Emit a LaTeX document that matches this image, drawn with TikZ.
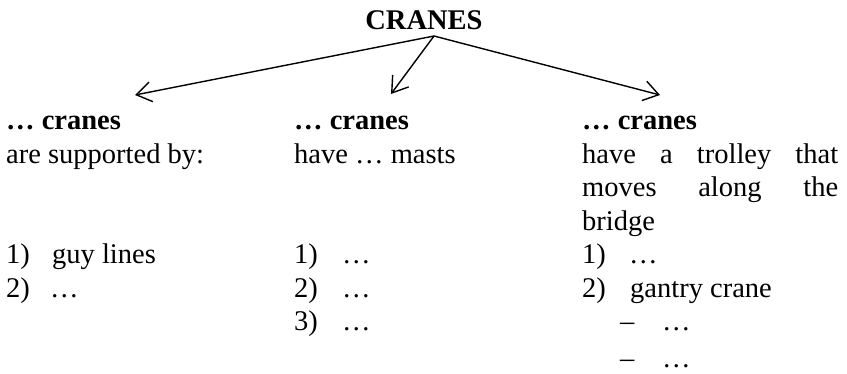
\documentclass[tikz,border=0pt]{standalone}
\usepackage{fontspec}
\setmainfont{Liberation Serif}
\usetikzlibrary{arrows.meta}
\tikzset{
  txt/.style={font=\fontsize{28.5}{33}\selectfont, inner sep=0pt, anchor=base west},
  bold/.style={txt, font=\fontsize{28.5}{33}\selectfont\bfseries},
  conn/.style={line width=1.4pt, -{Straight Barb[length=15pt,width=20pt,line width=1.4pt]}}
}
\begin{document}
\begin{tikzpicture}[x=1pt,y=-1pt]
\useasboundingbox (0,0) rectangle (847,373);
% title
\node[bold, anchor=base] (title) at (424,29) {CRANES};
\coordinate (apex) at (434,36);
\coordinate (tipL) at (135,95);
\coordinate (tipM) at (391,94);
\coordinate (tipR) at (660,95);
\draw[conn] (apex) -- (tipL);
\draw[conn] (apex) -- (tipM);
\draw[conn] (apex) -- (tipR);
% left column
\node[bold] (lh) at (6,129.5) {… cranes};
\node[txt] (ld) at (6,163) {are supported by:};
\node[txt] (l1n) at (6,263.5) {1)};
\node[txt] (l1t) at (52,263.5) {guy lines};
\node[txt] (l2n) at (6,297) {2)};
\node[txt] (l2t) at (50,297) {…};
% middle column
\node[bold] (mh) at (294,129.5) {… cranes};
\node[txt] (md) at (294,163) {have … masts};
\node[txt] (m1n) at (294,263.5) {1)};
\node[txt] (m1t) at (342,263.5) {…};
\node[txt] (m2n) at (294,297) {2)};
\node[txt] (m2t) at (342,297) {…};
\node[txt] (m3n) at (294,330.5) {3)};
\node[txt] (m3t) at (342,330.5) {…};
% right column
\node[bold] (rh) at (582,129.5) {… cranes};
\node[txt] (rd1) at (582,163) {\makebox[256pt][s]{have\hfill a\hfill trolley\hfill that}};
\node[txt] (rd2) at (582,196.5) {\makebox[256pt][s]{moves\hfill along\hfill the}};
\node[txt] (rd3) at (582,230) {bridge};
\node[txt] (r1n) at (582,263.5) {1)};
\node[txt] (r1t) at (629,263.5) {…};
\node[txt] (r2n) at (582,297) {2)};
\node[txt] (r2t) at (630,297) {gantry crane};
\node[txt] (r3n) at (620,330.5) {–};
\node[txt] (r3t) at (662,330.5) {…};
\node[txt] (r4n) at (620,367) {–};
\node[txt] (r4t) at (662,367) {…};
\end{tikzpicture}
\end{document}
